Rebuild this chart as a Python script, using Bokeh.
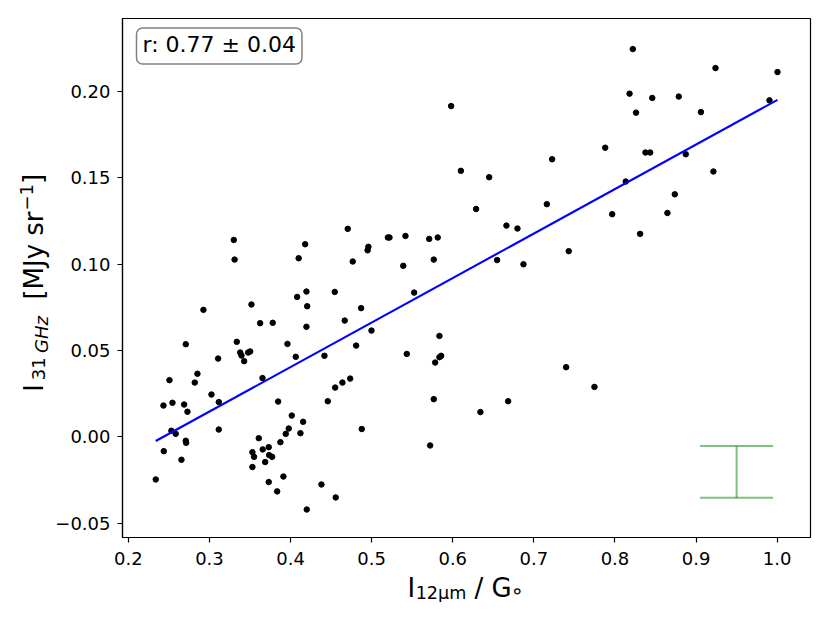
from bokeh.plotting import figure
from bokeh.models import Label, FixedTicker, CustomJSTickFormatter, Range1d, LinearAxis
from bokeh.embed import file_html
from bokeh.resources import INLINE

# ---------------- data ----------------
x_vals = [
    0.598, 0.610, 0.330, 0.331, 0.418, 0.410, 0.4705, 0.4767, 0.495, 0.496,
    0.520, 0.522, 0.5417, 0.539, 0.571, 0.5815, 0.5766,
    0.822, 0.924, 1.0004, 0.818, 0.846, 0.8787, 0.9905, 0.826, 0.906,
    0.788, 0.8376, 0.8434, 0.8873, 0.7225, 0.6449, 0.8133, 0.9214, 0.8738,
    0.6288, 0.716, 0.7966, 0.8647, 0.6662, 0.6798, 0.831, 0.6547, 0.6872, 0.743,
    0.4196, 0.4081, 0.4545, 0.5524, 0.2926, 0.3518, 0.4205, 0.487, 0.3625, 0.378,
    0.4668, 0.4196, 0.4998, 0.5836, 0.2708, 0.3337, 0.3962, 0.4809, 0.3379, 0.3395,
    0.3428, 0.3477, 0.3502, 0.3107, 0.4064, 0.4418, 0.5433, 0.5783, 0.5836, 0.5857,
    0.2507, 0.2852, 0.2819, 0.3654, 0.455, 0.464, 0.4735, 0.3025, 0.2433, 0.2544,
    0.2688, 0.2729, 0.3115, 0.3847, 0.4459, 0.5766, 0.4015, 0.4155, 0.3978, 0.3941,
    0.4122, 0.3115, 0.4878, 0.2531, 0.2584, 0.2708, 0.2713, 0.3608, 0.3875, 0.2437,
    0.2655, 0.353, 0.355, 0.3657, 0.3731, 0.3736, 0.3773, 0.3687, 0.353, 0.2338,
    0.3731, 0.3912, 0.3835, 0.4381, 0.4557, 0.42, 0.5721,
    0.6341, 0.6683, 0.7398, 0.7747,
]
y_vals = [
    0.1915, 0.154, 0.114, 0.1026, 0.1115, 0.1034, 0.1204, 0.1015, 0.108, 0.110,
    0.1154, 0.1154, 0.1163, 0.099, 0.1146, 0.1154, 0.1026,
    0.2245, 0.2135, 0.2112, 0.1987, 0.1962, 0.197, 0.1948, 0.1877, 0.188,
    0.1674, 0.1646, 0.1646, 0.1636, 0.1607, 0.1503, 0.1478, 0.1536, 0.1404,
    0.1319, 0.1347, 0.1289, 0.1296, 0.1223, 0.1206, 0.1175, 0.1023, 0.0999, 0.1075,
    0.0841, 0.0810, 0.0839, 0.0835, 0.0735, 0.0766, 0.0756, 0.0745, 0.0658, 0.066,
    0.0673, 0.0637, 0.0615, 0.0584, 0.0536, 0.055, 0.0538, 0.0528, 0.0488, 0.0471,
    0.0438, 0.0488, 0.0494, 0.0453, 0.0463, 0.0469, 0.048, 0.043, 0.0461, 0.0469,
    0.0328, 0.0365, 0.0314, 0.034, 0.0285, 0.0314, 0.0337, 0.0245, 0.0181, 0.0197,
    0.0187, 0.0145, 0.0201, 0.0204, 0.0206, 0.0218, 0.0123, 0.0087, 0.0048, 0.0017,
    0.0021, 0.0042, 0.0045, 0.0035, 0.0017, -0.0023, -0.0035, -0.0008, -0.0031, -0.0083,
    -0.0133, -0.0089, -0.0116, -0.0073, -0.006, -0.0106, -0.0116, -0.0146, -0.0175, -0.0247,
    -0.0262, -0.023, -0.0316, -0.0276, -0.0351, -0.0421, -0.005,
    0.0143, 0.0206, 0.0403, 0.0289,
]

FIT_SLOPE = 0.2577
FIT_INTERCEPT = -0.0627

ERR_X = 0.95
ERR_Y = -0.0203
ERR_DY = 0.015
ERR_CAP = 0.045

R_TEXT = "r: 0.77 \u00b1 0.04"

X_TICKS = [0.2, 0.3, 0.4, 0.5, 0.6, 0.7, 0.8, 0.9, 1.0]
Y_TICKS = [-0.05, 0.0, 0.05, 0.10, 0.15, 0.20]

FONT = "DejaVu Sans"

# ---------------- geometry ----------------
W, H = 814, 602
FL, FR, FT, FB = 122, 810, 18, 537          # frame edges in canvas pixels
X0, X1 = 0.1928, 1.0411
Y0, Y1 = -0.0583, 0.2422


def sx_to_x(sx):
    return X0 + (sx - FL) * (X1 - X0) / (FR - FL)


def sy_to_y(sy):
    return Y0 + (FB - sy) * (Y1 - Y0) / (FB - FT)


p = figure(
    width=W, height=H,
    x_range=Range1d(X0, X1), y_range=Range1d(Y0, Y1),
    output_backend="svg", toolbar_location=None,
    min_border_left=FL, min_border_right=W - FR,
    min_border_top=FT, min_border_bottom=H - FB,
)
p.title.visible = False
p.grid.visible = False
p.outline_line_color = "black"
p.outline_line_width = 1.2
p.background_fill_color = "white"
p.border_fill_color = "white"

for ax in (p.xaxis[0], p.yaxis[0]):
    ax.axis_line_color = "black"
    ax.axis_line_width = 1.2
    ax.major_tick_line_color = "black"
    ax.major_tick_line_width = 1.2
    ax.major_tick_out = 5
    ax.major_tick_in = 0
    ax.minor_tick_line_color = None
    ax.major_label_text_font = FONT
    ax.major_label_text_font_size = "18px"
    ax.major_label_text_color = "black"
    ax.axis_label = None

p.xaxis[0].ticker = FixedTicker(ticks=X_TICKS)
p.yaxis[0].ticker = FixedTicker(ticks=Y_TICKS)
p.xaxis[0].formatter = CustomJSTickFormatter(code="return tick.toFixed(1);")
p.yaxis[0].formatter = CustomJSTickFormatter(
    code="return tick.toFixed(2).replace('-', '\\u2212');")
p.xaxis[0].major_label_standoff = 9
p.yaxis[0].major_label_standoff = 7

# points
p.scatter(x_vals, y_vals, size=5.5, color="black", line_color="black")

# fit line
fx = [min(x_vals), max(x_vals)]
fy = [FIT_SLOPE * v + FIT_INTERCEPT for v in fx]
p.line(fx, fy, color="#0000ff", line_width=2.1)

# representative error bar
p.segment(x0=[ERR_X], y0=[ERR_Y - ERR_DY], x1=[ERR_X], y1=[ERR_Y + ERR_DY],
          line_color="#008000", line_alpha=0.5, line_width=2)
p.segment(x0=[ERR_X - ERR_CAP] * 2, y0=[ERR_Y - ERR_DY, ERR_Y + ERR_DY],
          x1=[ERR_X + ERR_CAP] * 2, y1=[ERR_Y - ERR_DY, ERR_Y + ERR_DY],
          line_color="#008000", line_alpha=0.5, line_width=2)

# correlation box
p.add_layout(Label(
    x=136 - FL, y=FB - 45.5, x_units="screen", y_units="screen",
    text=R_TEXT, text_font=FONT, text_font_size="22px", text_color="black",
    text_align="left", text_baseline="alphabetic",
    background_fill_color="white", border_line_color="#808080",
    border_line_width=1.5, border_radius=6,
    padding=dict(left=6, right=6, top=4, bottom=7)))


# ---------------- axis titles (mixed sizes, sub/superscripts) ----------------
# Each piece is a tick label of an extra, invisible side axis; the standoffs
# move the texts into place.
def text_axis(side, pieces, standoff, size, style="normal"):
    if side in ("below", "above"):
        ticks = [sx_to_x(c) for _, c in pieces]
        orient = "horizontal"
    else:
        ticks = [sy_to_y(c) for _, c in pieces]
        orient = "parallel"
    ax = LinearAxis(
        ticker=FixedTicker(ticks=ticks),
        major_label_overrides={t: txt for t, (txt, _) in zip(ticks, pieces)},
        axis_line_color=None, major_tick_line_color=None, minor_tick_line_color=None,
        major_tick_out=0, major_tick_in=0, minor_tick_out=0, minor_tick_in=0,
        major_label_standoff=standoff, major_label_orientation=orient,
        major_label_text_font=FONT, major_label_text_font_size=size,
        major_label_text_font_style=style, major_label_text_color="black",
        axis_label=None,
    )
    p.add_layout(ax, side)


# x title: I_{12 um} / G_o  -- anchored from the top panel (takes no room there)
text_axis("above", [("I", 410.8), ("/ G", 492.5)], -584, "26px")
text_axis("above", [("12\u03bcm", 440.5)], -584, "17.6px")
text_axis("above", [("\u2218", 516.7)], -584, "21px")

# y title: I_{31 GHz} [MJy sr^-1]   (reads bottom to top)
text_axis("left", [("31", 368.3)], 7, "18px")
text_axis("left", [("GHz", 334.0)], -22, "18px", style="italic")
text_axis("left", [("I", 387.5), ("[MJy sr", 255.0), ("]", 178.3)], -21, "26px")
text_axis("left", [("\u22121", 196.7)], -18, "18px")

open("out.html", "w").write(file_html(p, INLINE))
